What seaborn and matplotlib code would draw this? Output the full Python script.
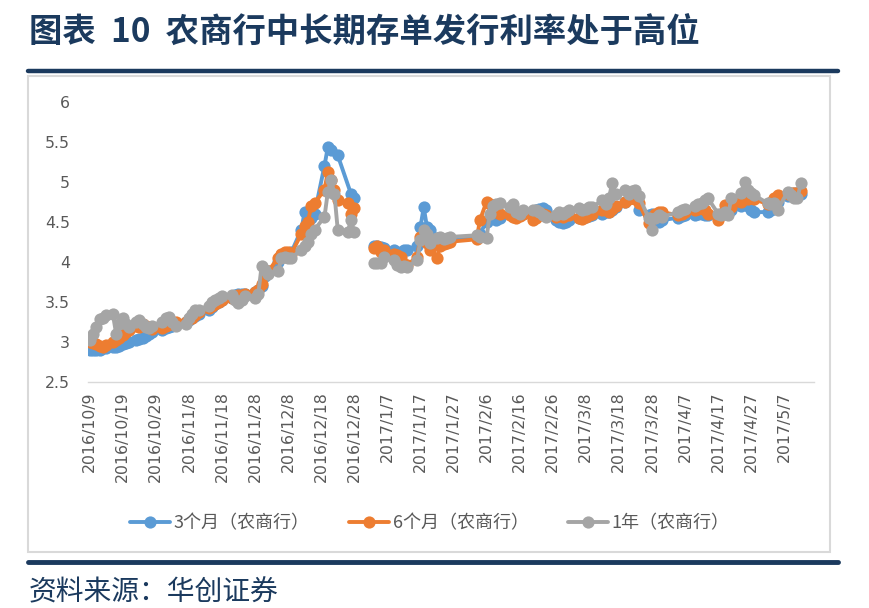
import numpy as np
import pandas as pd
import matplotlib
matplotlib.use('Agg')
import matplotlib.pyplot as plt
import seaborn as sns
from matplotlib.lines import Line2D
from matplotlib.patches import Rectangle

# issue dates (business days, gap over new year)
dates = [
    '2016-10-09', '2016-10-10', '2016-10-11', '2016-10-12', '2016-10-13', '2016-10-14', '2016-10-16',
    '2016-10-17', '2016-10-18', '2016-10-19', '2016-10-20', '2016-10-21', '2016-10-23', '2016-10-24',
    '2016-10-25', '2016-10-26', '2016-10-27', '2016-10-28', '2016-10-31', '2016-11-01', '2016-11-02',
    '2016-11-03', '2016-11-04', '2016-11-07', '2016-11-08', '2016-11-09', '2016-11-10', '2016-11-11',
    '2016-11-14', '2016-11-15', '2016-11-16', '2016-11-17', '2016-11-18', '2016-11-21', '2016-11-22',
    '2016-11-23', '2016-11-24', '2016-11-25', '2016-11-28', '2016-11-29', '2016-11-30', '2016-12-01',
    '2016-12-02', '2016-12-05', '2016-12-06', '2016-12-07', '2016-12-08', '2016-12-09', '2016-12-12',
    '2016-12-13', '2016-12-14', '2016-12-15', '2016-12-16', '2016-12-19', '2016-12-20', '2016-12-21',
    '2016-12-22', '2016-12-23', '2016-12-26', '2016-12-27', '2016-12-28',
    '2017-01-03', '2017-01-04', '2017-01-05', '2017-01-06', '2017-01-09', '2017-01-10', '2017-01-11',
    '2017-01-12', '2017-01-13', '2017-01-16', '2017-01-17', '2017-01-18', '2017-01-19', '2017-01-20',
    '2017-01-22', '2017-01-23', '2017-01-24', '2017-01-25', '2017-01-26', '2017-02-03', '2017-02-04',
    '2017-02-06', '2017-02-07', '2017-02-08', '2017-02-09', '2017-02-10', '2017-02-13', '2017-02-14',
    '2017-02-15', '2017-02-16', '2017-02-17', '2017-02-20', '2017-02-21', '2017-02-22', '2017-02-23',
    '2017-02-24', '2017-02-27', '2017-02-28', '2017-03-01', '2017-03-02', '2017-03-03', '2017-03-06',
    '2017-03-07', '2017-03-08', '2017-03-09', '2017-03-10', '2017-03-13', '2017-03-14', '2017-03-15',
    '2017-03-16', '2017-03-17', '2017-03-20', '2017-03-21', '2017-03-22', '2017-03-23', '2017-03-24',
    '2017-03-27', '2017-03-28', '2017-03-29', '2017-03-30', '2017-03-31', '2017-04-05', '2017-04-06',
    '2017-04-07', '2017-04-10', '2017-04-11', '2017-04-12', '2017-04-13', '2017-04-14', '2017-04-17',
    '2017-04-18', '2017-04-19', '2017-04-20', '2017-04-21', '2017-04-24', '2017-04-25', '2017-04-26',
    '2017-04-27', '2017-04-28', '2017-05-02', '2017-05-03', '2017-05-04', '2017-05-05', '2017-05-08',
    '2017-05-09', '2017-05-10', '2017-05-11', '2017-05-12',
]

nan = np.nan
rate_3m = [
    2.90, 2.90, 2.89, 2.90, 2.92, 2.92, 2.93, 2.93, 2.95, 2.97, 2.98, 3.00, 3.02, 3.03,
    3.05, 3.07, 3.10, 3.12, 3.15, 3.17, 3.18, 3.20, 3.22, 3.25, 3.27, 3.30, 3.32, 3.35,
    3.40, 3.43, 3.47, 3.50, 3.52, 3.55, 3.58, 3.60, 3.60, 3.60, 3.62, 3.65, 3.70, 3.82,
    3.88, 4.00, 4.08, 4.08, 4.10, 4.12, 4.40, 4.62, 4.55, 4.55, 4.60, 5.20, 5.43, 5.40,
    nan, 5.33, nan, 4.85, 4.80,
    4.20, 4.20, 4.18, 4.17, 4.15, 4.12, 4.12, 4.15, 4.15, 4.20, 4.43, 4.68, 4.43, 4.40,
    4.30, 4.25, 4.25, 4.27, 4.28, 4.30, 4.35, 4.50, 4.55, 4.55, 4.52, 4.55, 4.60, 4.62,
    4.60, 4.58, 4.60, 4.62, 4.65, 4.66, 4.67, 4.65, 4.52, 4.50, 4.48, 4.50, 4.52, 4.55,
    4.56, 4.56, 4.57, 4.58, 4.60, 4.62, 4.62, 4.65, 4.68, 4.75, 4.80, 4.82, 4.80, 4.65,
    4.58, 4.60, 4.55, 4.50, 4.52, 4.55, 4.57, 4.58, 4.58, 4.60, 4.60, 4.58, 4.58, 4.58,
    4.60, 4.60, 4.62, 4.64, 4.70, 4.72, 4.70, 4.65, 4.62, 4.62, 4.65, 4.70, 4.75, 4.82,
    4.85, 4.86, 4.86, 4.85,
]
rate_6m = [
    3.00, 2.98, 2.97, 2.95, 2.93, 2.96, 3.00, 3.02, 3.05, 3.08, 3.12, 3.15, 3.20, 3.18,
    3.22, 3.20, 3.18, 3.16, 3.17, 3.20, 3.22, 3.22, 3.24, 3.25, 3.28, 3.30, 3.33, 3.37,
    3.42, 3.45, 3.47, 3.50, 3.52, 3.55, 3.56, 3.58, 3.58, 3.60, 3.62, 3.65, 3.72, 3.85,
    3.88, 4.05, 4.10, 4.12, 4.12, 4.10, 4.35, 4.45, 4.50, 4.70, 4.73, 4.90, 5.12, 5.02,
    4.90, 4.77, 4.73, 4.60, 4.67,
    4.17, 4.20, 4.12, 4.15, 4.10, 4.08, 4.06, 3.97, 3.96, 4.06, 4.31, 4.35, 4.23, 4.15,
    4.05, 4.20, 4.22, 4.23, 4.25, 4.28, 4.52, 4.75, 4.72, 4.65, 4.62, 4.60, 4.58, 4.56,
    4.55, 4.57, 4.60, 4.52, 4.55, 4.58, 4.60, 4.58, 4.56, 4.58, 4.56, 4.58, 4.58, 4.55,
    4.53, 4.56, 4.58, 4.60, 4.65, 4.66, 4.62, 4.66, 4.70, 4.75, 4.78, 4.80, 4.78, 4.73,
    4.48, 4.56, 4.60, 4.62, 4.62, 4.58, 4.60, 4.62, 4.64, 4.66, 4.68, 4.65, 4.60, 4.52,
    4.60, 4.71, 4.68, 4.68, 4.75, 4.80, 4.78, 4.80, 4.78, 4.72, 4.75, 4.80, 4.83, 4.85,
    4.86, 4.86, 4.86, 4.88,
]
rate_1y = [
    3.02, 3.10, 3.18, 3.28, 3.30, 3.33, 3.35, 3.10, 3.22, 3.30, 3.22, 3.18, 3.24, 3.27,
    3.22, 3.18, 3.17, 3.20, 3.25, 3.30, 3.31, 3.25, 3.20, 3.22, 3.30, 3.35, 3.39, 3.40,
    3.45, 3.50, 3.52, 3.55, 3.57, 3.58, 3.52, 3.48, 3.52, 3.57, 3.55, 3.60, 3.95, 3.90,
    3.85, 3.88, 4.05, 4.06, 4.05, 4.05, 4.15, 4.20, 4.25, 4.35, 4.40, 4.56, 4.87, 5.02,
    4.85, 4.40, 4.37, 4.52, 4.37,
    3.98, 3.98, 3.98, 4.06, 4.02, 3.96, 3.93, 3.95, 3.93, 4.02, 4.27, 4.40, 4.35, 4.23,
    4.30, 4.31, 4.28, 4.30, 4.31, 4.33, 4.31, 4.30, 4.60, 4.70, 4.72, 4.73, 4.68, 4.72,
    4.62, 4.60, 4.65, 4.64, 4.65, 4.62, 4.58, 4.56, 4.58, 4.62, 4.60, 4.62, 4.65, 4.67,
    4.64, 4.66, 4.68, 4.68, 4.77, 4.72, 4.80, 4.98, 4.85, 4.90, 4.85, 4.88, 4.90, 4.82,
    4.55, 4.40, 4.55, 4.58, 4.56, 4.62, 4.65, 4.66, 4.70, 4.72, 4.73, 4.77, 4.79, 4.60,
    4.58, 4.62, 4.58, 4.79, 4.86, 5.00, 4.90, 4.86, 4.83, 4.73, 4.72, 4.73, 4.65, 4.87,
    4.83, 4.80, 4.79, 4.98,
]

series_names = ['3个月（农商行）', '6个月（农商行）', '1年（农商行）']
colors = ['#5B9BD5', '#ED7D31', '#A5A5A5']
y_ticks = [2.5, 3, 3.5, 4, 4.5, 5, 5.5, 6]
y_labels = ['2.5', '3', '3.5', '4', '4.5', '5', '5.5', '6']
tick_dates = pd.date_range('2016-10-09', '2017-05-07', freq='10D')

title = '图表  10  农商行中长期存单发行利率处于高位'
source = '资料来源：华创证券'
navy = '#1B3A5E'
grey_text = '#595959'

# long format, split into two segments so the line breaks over new year
df = pd.DataFrame({'date': pd.to_datetime(dates),
                   series_names[0]: rate_3m,
                   series_names[1]: rate_6m,
                   series_names[2]: rate_1y})
long_df = df.melt(id_vars='date', var_name='series', value_name='rate').dropna()
long_df['seg'] = (long_df['date'] >= pd.Timestamp('2017-01-01')).astype(int)

sns.set_style('white')
plt.rcParams['font.family'] = ['Noto Sans CJK SC', 'DejaVu Sans']

W, H = 870, 608
fig = plt.figure(figsize=(W / 100, H / 100), dpi=100)

def fx(px):
    return px / W

def fy(py):
    return 1 - py / H

ax = fig.add_axes([fx(88), fy(381.7), fx(814) - fx(88), fy(101.7) - fy(381.7)])

sns.lineplot(data=long_df, x='date', y='rate', hue='series', units='seg', estimator=None,
             hue_order=series_names, palette=colors, marker='o', markersize=8.8,
             markeredgewidth=0, linewidth=2.8, legend=False, ax=ax)

ax.set_ylim(2.5, 6)
ax.set_yticks(y_ticks)
ax.set_yticklabels(y_labels, fontfamily='DejaVu Sans', fontsize=11.3, color=grey_text)
ax.set_xlim(pd.Timestamp('2016-10-08 12:00'), pd.Timestamp('2017-05-16'))
ax.set_xticks(tick_dates)
ax.set_xticklabels([f'{d.year}/{d.month}/{d.day}' for d in tick_dates],
                   rotation=90, fontfamily='DejaVu Sans', fontsize=11.3, color=grey_text)
ax.tick_params(axis='x', length=0, pad=7)
ax.tick_params(axis='y', length=0, pad=13)
ax.set_xlabel('')
ax.set_ylabel('')
for side in ['top', 'right', 'left']:
    ax.spines[side].set_visible(False)
ax.spines['bottom'].set_color('#D9D9D9')
ax.spines['bottom'].set_linewidth(1.0)
ax.grid(False)

# legend
handles = [Line2D([], [], color=c, lw=2.8, marker='o', markersize=8.8, markeredgewidth=0)
           for c in colors]
fig.legend(handles, series_names, loc='center', bbox_to_anchor=(fx(430), fy(523)),
           ncol=3, frameon=False, handlelength=2.2, handletextpad=0.2, columnspacing=2.2,
           prop={'family': ['Noto Sans CJK SC', 'DejaVu Sans'], 'size': 13},
           labelcolor=grey_text)

# title, rules and chart frame
fig.text(fx(29), fy(33), title, fontsize=24, fontweight='bold', color=navy,
         ha='left', va='center')
fig.add_artist(Line2D([fx(28), fx(838)], [fy(71), fy(71)], color=navy, lw=3.2))
fig.add_artist(Rectangle((fx(28), fy(552)), fx(830) - fx(28), fy(76) - fy(552),
                         fill=False, edgecolor='#D9D9D9', lw=1.5))
fig.add_artist(Line2D([fx(28), fx(838)], [fy(562), fy(562)], color=navy, lw=3.5))
fig.text(fx(29), fy(592), source, fontsize=20, style='italic', color=navy,
         ha='left', va='center')

fig.savefig('out.png', dpi=100)
